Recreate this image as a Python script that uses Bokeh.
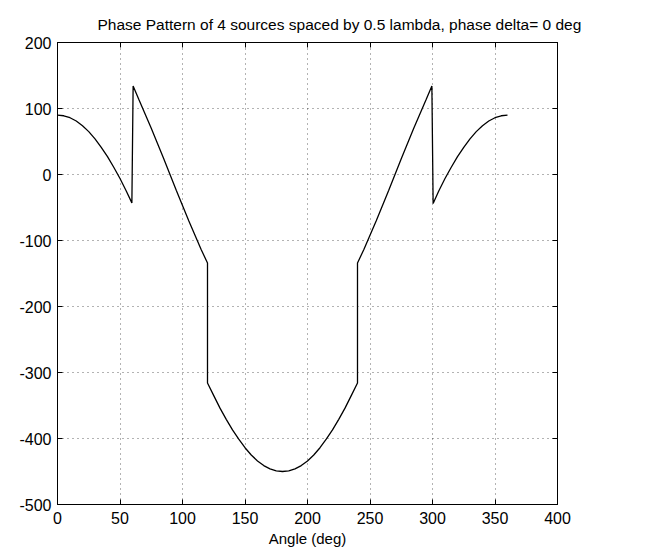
from bokeh.plotting import figure
from bokeh.models import Range1d, SingleIntervalTicker, LinearAxis, CustomJSTickFormatter
from bokeh.embed import file_html
from bokeh.resources import INLINE

# Angle (deg) and phase (deg)
angle = [0, 5, 10, 15, 20, 25, 30, 35, 40, 45, 50, 55, 59.5,
         60.5, 65, 70, 75, 80, 85, 90, 95, 100, 105, 110, 115, 120,
         120, 125, 130, 135, 140, 145, 150, 155, 160, 165, 170, 175, 180,
         185, 190, 195, 200, 205, 210, 215, 220, 225, 230, 235, 240,
         240, 245, 250, 255, 260, 265, 270, 275, 280, 285, 290, 295, 299.5,
         300.5, 305, 310, 315, 320, 325, 330, 335, 340, 345, 350, 355, 360]
phase = [90, 89, 86, 81, 74, 65, 54, 41, 27, 11, -6, -25, -43,
         134, 114, 92, 70, 47, 24, 0, -24, -47, -70, -92, -114, -134,
         -316, -335, -354, -371, -387, -401, -414, -425, -434, -441, -446, -449, -450,
         -449, -446, -441, -434, -425, -414, -401, -387, -371, -354, -335, -316,
         -134, -114, -92, -70, -47, -24, 0, 24, 47, 70, 92, 114, 134,
         -44, -25, -6, 11, 27, 41, 54, 65, 74, 81, 86, 89, 90]

title_text = "Phase Pattern of 4 sources spaced by 0.5 lambda,  phase delta= 0 deg"
x_label = "Angle (deg)"

FONT = "Liberation Sans"

p = figure(width=664, height=556, output_backend="svg", toolbar_location=None,
           x_range=Range1d(0, 400), y_range=Range1d(-500, 200),
           min_border_left=57, min_border_right=107, min_border_top=42, min_border_bottom=52,
           x_axis_label=x_label)

p.title.text = title_text
p.title.align = "left"
p.title.offset = 40
p.title.text_font = FONT
p.title.text_font_size = "15.5px"
p.title.text_font_style = "normal"
p.title.text_color = "black"
p.title.standoff = 20

p.line(angle, phase, line_color="black", line_width=1.3)

fmt = CustomJSTickFormatter(code="return String(tick);")
p.xaxis.ticker = SingleIntervalTicker(interval=50)
p.yaxis.ticker = SingleIntervalTicker(interval=100)
for ax in (p.xaxis[0], p.yaxis[0]):
    ax.formatter = fmt
    ax.major_tick_in = 5
    ax.major_tick_out = 0
    ax.minor_tick_in = 0
    ax.minor_tick_out = 0
    ax.axis_line_color = "black"
    ax.major_tick_line_color = "black"
    ax.major_label_text_font = FONT
    ax.major_label_text_font_size = "16px"
    ax.major_label_text_color = "black"
    ax.axis_label_text_font = FONT
    ax.axis_label_text_font_size = "15px"
    ax.axis_label_text_font_style = "normal"
    ax.axis_label_text_color = "black"
p.xaxis.major_label_standoff = 7
p.yaxis.major_label_standoff = 6
p.xaxis.axis_label_standoff = 3

# mirrored inward ticks on top and right, as in the reference
empty = CustomJSTickFormatter(code="return '';")
for loc, iv in (("above", 50), ("right", 100)):
    ax = LinearAxis(ticker=SingleIntervalTicker(interval=iv), formatter=empty,
                    major_tick_in=5, major_tick_out=0,
                    minor_tick_in=0, minor_tick_out=0,
                    major_label_standoff=0, major_label_text_font_size="1px",
                    axis_line_color="black", major_tick_line_color="black")
    p.add_layout(ax, loc)

p.xgrid.ticker = SingleIntervalTicker(interval=50)
p.ygrid.ticker = SingleIntervalTicker(interval=100)
p.grid.grid_line_color = "black"
p.grid.grid_line_alpha = 0.6
p.grid.grid_line_dash = "1 4"
p.grid.grid_line_width = 1

p.outline_line_color = "black"
p.outline_line_width = 1
p.outline_line_alpha = 1

open("out.html", "w").write(file_html(p, INLINE))
